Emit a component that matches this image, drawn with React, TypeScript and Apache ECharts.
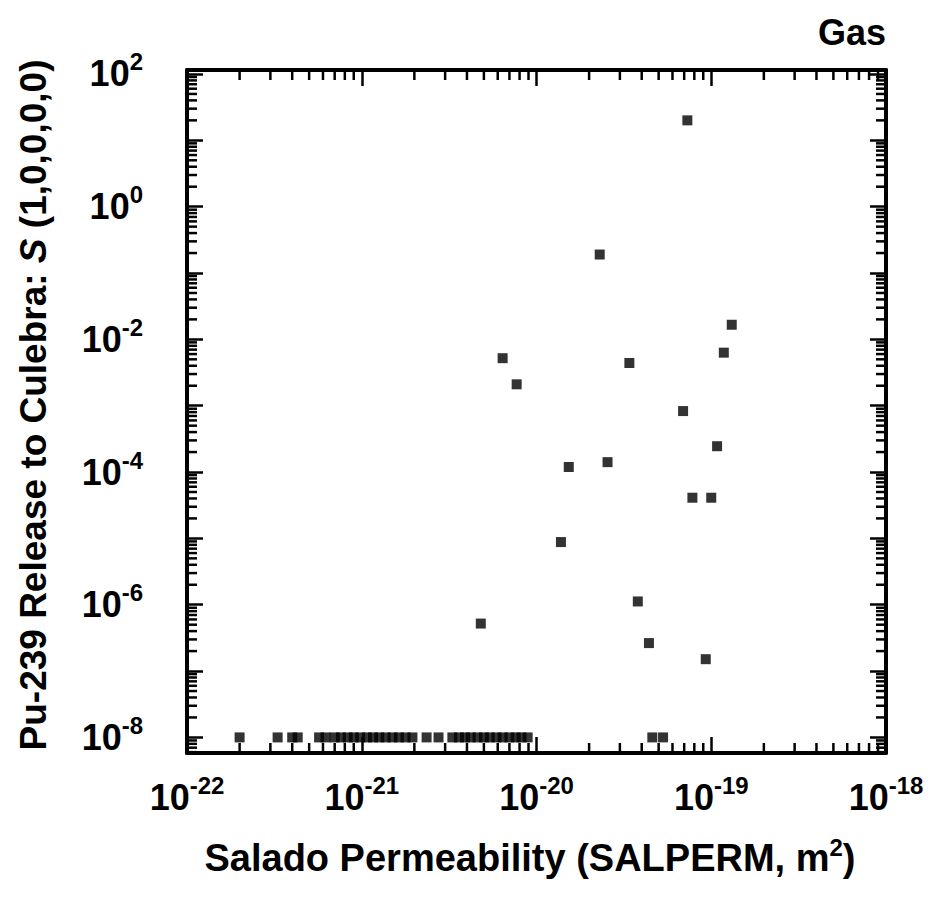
import React, { useEffect, useRef } from "react";
import * as echarts from "echarts";

// Tick label exponents (labels read "10^n")
const xLabelExps = [-22, -21, -20, -19, -18];
const yLabelExps = [-8, -6, -4, -2, 0, 2];

// Points above the floor: Salado permeability (m^2) and Pu-239 release
const salperm = [
  7.3e-20, 2.3e-20, 1.31e-19, 6.4e-21, 3.4e-20, 1.18e-19, 7.7e-21, 6.9e-20,
  1.08e-19, 1.53e-20, 2.55e-20, 7.8e-20, 1.0e-19, 1.38e-20, 3.8e-20, 4.8e-21,
  4.4e-20, 9.3e-20,
];
const release = [
  20, 0.19, 0.0166, 5.2e-3, 4.4e-3, 6.3e-3, 2.1e-3, 8.3e-4, 2.45e-4, 1.19e-4,
  1.41e-4, 4.1e-5, 4.1e-5, 8.8e-6, 1.12e-6, 5.2e-7, 2.64e-7, 1.51e-7,
];

// Points at the floor release value of 1e-8
const floorPerm = [
  2.0e-22, 3.3e-22, 4.0e-22, 4.3e-22, 5.7e-22, 6.2e-22, 7.0e-22, 7.6e-22,
  8.3e-22, 9.0e-22, 9.8e-22, 1.07e-21, 1.16e-21, 1.26e-21, 1.37e-21, 1.5e-21,
  1.63e-21, 1.78e-21, 1.95e-21, 2.35e-21, 2.75e-21, 3.3e-21, 3.6e-21, 3.9e-21,
  4.2e-21, 4.6e-21, 5.0e-21, 5.4e-21, 5.9e-21, 6.4e-21, 7.0e-21, 7.6e-21,
  8.2e-21, 8.9e-21, 4.6e-20, 5.3e-20,
];
const floorRelease = 1e-8;

const FONT = '"Liberation Sans", Arial, Helvetica, sans-serif';

function decadeTicks(lo: number, hi: number) {
  const major: number[] = [];
  const minor: number[] = [];
  for (let d = lo; d <= hi; d++) {
    major.push(d);
    if (d < hi) for (let k = 2; k <= 9; k++) minor.push(d + Math.log10(k));
  }
  return { major, minor };
}

export default function App() {
  const ref = useRef<HTMLDivElement>(null);
  useEffect(() => {
    if (!ref.current) return;
    const chart = echarts.init(ref.current, undefined, { renderer: "svg" });

    const xMin = -22, xMax = -18;
    const yMin = -8.235, yMax = 2.06;
    const xt = decadeTicks(-22, -18);
    const yt = decadeTicks(-9, 2);
    const yMajor = yt.major.filter((v) => v >= yMin && v <= yMax);
    const yMinor = yt.minor.filter((v) => v >= yMin && v <= yMax);

    const rich = {
      b: { fontSize: 36, fontWeight: "bold", fontFamily: FONT, color: "#000", lineHeight: 48 },
      s: { fontSize: 24, fontWeight: "bold", fontFamily: FONT, color: "#000", lineHeight: 24, verticalAlign: "top" },
    };
    const fmt = (v: number) => `{b|10}{s|${Math.round(v)}}`;

    const axLine = { show: true, onZero: false, lineStyle: { color: "#000", width: 4 } };
    const tickStyle = { color: "#000", width: 2.5 };
    const MAJOR = 16;
    const MINOR = 10;

    const mkX = (pos: string, labels: boolean) => ({
      type: "value",
      position: pos,
      min: xMin,
      max: xMax,
      axisLine: axLine,
      axisTick: {
        show: true,
        inside: true,
        length: MAJOR,
        lineStyle: tickStyle,
        customValues: xt.major,
      },
      axisLabel: labels
        ? { show: true, customValues: xLabelExps, formatter: fmt, rich, margin: 20 }
        : { show: false },
      splitLine: { show: false },
    });
    const mkY = (pos: string, labels: boolean) => ({
      type: "value",
      position: pos,
      min: yMin,
      max: yMax,
      axisLine: axLine,
      axisTick: {
        show: true,
        inside: true,
        length: MAJOR,
        lineStyle: tickStyle,
        customValues: yMajor,
      },
      axisLabel: labels
        ? { show: true, customValues: yLabelExps, formatter: fmt, rich, margin: 44 }
        : { show: false },
      splitLine: { show: false },
    });

    const pts = salperm.map((p, i) => [Math.log10(p), Math.log10(release[i])]);
    const floorPts = floorPerm.map((p) => [Math.log10(p), Math.log10(floorRelease)]);

    // minor ticks: [x, y, kind] kind 0 = x-axis tick, 1 = y-axis tick
    const minorData = [
      ...xt.minor.map((v) => [v, yMin, 0]),
      ...yMinor.map((v) => [xMin, v, 1]),
    ];

    chart.setOption({
      animation: false,
      backgroundColor: "#fff",
      grid: { left: 187, right: 48, top: 70, bottom: 145, containLabel: false },
      xAxis: [mkX("bottom", true), mkX("top", false)],
      yAxis: [mkY("left", true), mkY("right", false)],
      series: [
        {
          type: "custom",
          name: "minorTicks",
          xAxisIndex: 0,
          yAxisIndex: 0,
          clip: false,
          silent: true,
          z: 5,
          dimensions: ["x", "y", "kind"],
          encode: { x: 0, y: 1 },
          data: minorData,
          renderItem: (params: any, api: any) => {
            const kind = api.value(2);
            const st = { stroke: "#000", lineWidth: 2.5, fill: null };
            if (kind === 0) {
              const v = api.value(0);
              const b = api.coord([v, yMin]);
              const t = api.coord([v, yMax]);
              return {
                type: "group",
                children: [
                  { type: "line", shape: { x1: b[0], y1: b[1], x2: b[0], y2: b[1] - MINOR }, style: st },
                  { type: "line", shape: { x1: t[0], y1: t[1], x2: t[0], y2: t[1] + MINOR }, style: st },
                ],
              };
            }
            const v = api.value(1);
            const l = api.coord([xMin, v]);
            const r = api.coord([xMax, v]);
            return {
              type: "group",
              children: [
                { type: "line", shape: { x1: l[0], y1: l[1], x2: l[0] + MINOR, y2: l[1] }, style: st },
                { type: "line", shape: { x1: r[0], y1: r[1], x2: r[0] - MINOR, y2: r[1] }, style: st },
              ],
            };
          },
        },
        {
          type: "scatter",
          name: "release",
          xAxisIndex: 0,
          yAxisIndex: 0,
          symbol: "rect",
          symbolSize: 10,
          itemStyle: { color: "#000" },
          data: pts,
        },
        {
          type: "scatter",
          name: "floor",
          xAxisIndex: 0,
          yAxisIndex: 0,
          symbol: "rect",
          symbolSize: 10,
          itemStyle: { color: "#000" },
          data: floorPts,
        },
      ],
      graphic: [
        {
          type: "text",
          right: 48,
          top: 14,
          style: { text: "Gas", font: `bold 36px ${FONT}`, fill: "#000" },
        },
        {
          type: "text",
          x: 33,
          y: 405,
          rotation: Math.PI / 2,
          style: {
            text: "{n|Pu-239 Release to Culebra: }{i|S}{n| (1,0,0,0,0)}",
            align: "center",
            verticalAlign: "middle",
            rich: {
              n: { fontSize: 37, fontWeight: "bold", fontFamily: FONT, color: "#000" },
              i: { fontSize: 37, fontWeight: "bold", fontStyle: "italic", fontFamily: FONT, color: "#000" },
            },
          },
        },
        {
          type: "text",
          x: 530,
          y: 858,
          style: {
            text: "{n|Salado Permeability (SALPERM, m}{s|2}{n|)}",
            align: "center",
            verticalAlign: "middle",
            rich: {
              n: { fontSize: 38, fontWeight: "bold", fontFamily: FONT, color: "#000", lineHeight: 46 },
              s: { fontSize: 24, fontWeight: "bold", fontFamily: FONT, color: "#000", lineHeight: 22, verticalAlign: "top" },
            },
          },
        },
      ],
    });
    return () => chart.dispose();
  }, []);
  return (
    <div
      ref={ref}
      style={{ position: "fixed", left: 0, top: 0, width: 934, height: 898, background: "#fff" }}
    />
  );
}
